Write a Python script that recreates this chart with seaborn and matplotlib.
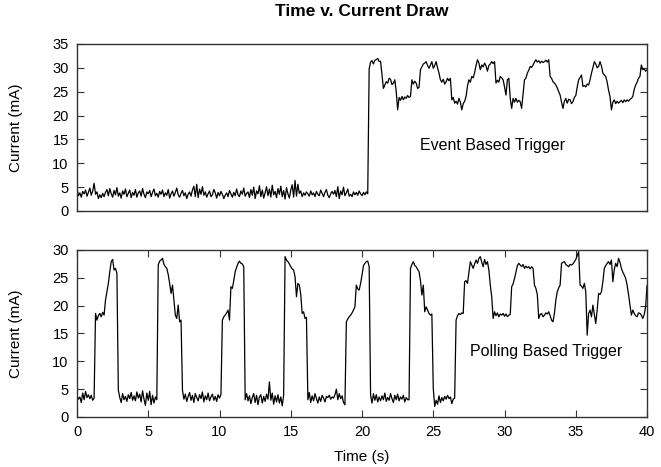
import numpy as np
import pandas as pd
import matplotlib
matplotlib.use("Agg")
import matplotlib.pyplot as plt
import seaborn as sns

sns.set_style("ticks")
plt.rcParams['font.family'] = ['Liberation Sans', 'DejaVu Sans']
plt.rcParams['text.color'] = 'black'
plt.rcParams['axes.labelcolor'] = 'black'
plt.rcParams['xtick.labelcolor'] = 'black'
plt.rcParams['ytick.labelcolor'] = 'black'

# sample grid, 0.1 s steps from 0 to 40 s
time_s = np.linspace(0, 40, 401)

# current draw (mA), one row per 2 s
event_ma = [
    4.6, 3.2, 3.8, 2.9, 4.1, 3.6, 4.4, 3.1, 3.9, 4.8, 3.3, 4.2, 5.8, 3.5, 4.0, 2.6, 3.4, 2.8, 3.7, 3.0,
    3.9, 4.5, 3.2, 4.7, 3.6, 2.9, 4.3, 3.4, 4.9, 3.1, 3.8, 2.7, 4.2, 3.5, 4.6, 3.0, 3.7, 4.4, 2.8, 3.9,
    3.3, 4.5, 2.9, 3.8, 4.2, 3.1, 4.7, 3.5, 2.8, 4.0, 3.6, 4.3, 3.0, 3.9, 4.6, 3.2, 3.7, 2.9, 4.1, 3.5,
    4.4, 3.0, 3.8, 3.3, 4.5, 2.7, 3.6, 4.2, 3.1, 3.9, 4.8, 3.4, 2.9, 3.7, 4.3, 3.2, 3.8, 2.6, 3.5, 4.0,
    3.1, 4.4, 5.2, 3.0, 5.6, 2.8, 4.6, 3.5, 5.1, 3.3, 4.0, 2.9, 3.6, 4.2, 3.0, 3.4, 4.5, 3.8, 2.7, 3.9,
    3.2, 4.1, 3.5, 2.6, 3.3, 3.8, 3.0, 4.3, 3.6, 2.9, 3.9, 3.2, 4.6, 3.4, 3.0, 4.2, 3.5, 4.8, 3.1, 3.7,
    4.0, 2.8, 4.5, 3.3, 5.0, 2.6, 4.2, 3.6, 5.3, 3.0, 4.4, 2.7, 3.8, 5.1, 3.2, 4.6, 2.9, 5.4, 3.4, 4.1,
    2.8, 4.7, 3.5, 5.2, 3.0, 4.3, 2.5, 4.9, 3.6, 2.7, 4.4, 5.5, 2.9, 6.4, 3.1, 5.6, 3.7, 4.2, 3.0, 3.8,
    3.3, 4.0, 3.6, 3.1, 4.2, 3.4, 3.8, 3.0, 4.1, 3.5, 3.2, 4.4, 3.7, 3.0, 3.9, 4.5, 3.3, 2.8, 3.6, 4.1,
    3.5, 4.3, 3.0, 5.1, 2.6, 4.2, 3.4, 5.0, 3.2, 3.8, 4.6, 3.1, 3.5, 3.0, 4.0, 3.4, 3.9, 3.3, 4.2, 3.6,
    3.2, 3.9, 3.4, 4.0, 3.6, 29.8, 31.2, 31.5, 30.8, 31.6, 31.7, 32.0, 31.3, 31.4, 28.5, 25.7, 26.4, 27.1, 26.8, 27.8,
    27.6, 26.5, 26.8, 27.5, 25.0, 21.2, 23.8, 23.2, 24.0, 23.3, 23.9, 23.6, 24.2, 23.8, 24.0, 27.5, 26.6, 27.2, 26.8, 25.7,
    25.9, 29.6, 30.2, 30.8, 31.0, 31.3, 30.5, 29.9, 30.6, 31.3, 29.9, 30.5, 31.3, 30.0, 28.9, 27.5, 27.0, 27.6, 26.6, 27.1,
    27.8, 27.3, 27.8, 23.3, 23.8, 22.6, 23.0, 22.4, 23.6, 22.8, 21.2, 22.5, 23.0, 24.0, 26.2, 27.5, 27.0, 28.2, 27.9, 29.0,
    30.5, 31.7, 31.0, 29.6, 30.6, 30.2, 31.0, 30.4, 29.3, 30.5, 30.8, 31.3, 30.9, 31.3, 26.8, 27.4, 27.0, 28.2, 27.9, 27.5,
    26.0, 24.3, 27.5, 27.8, 23.6, 21.5, 23.6, 22.8, 23.6, 22.8, 23.2, 22.9, 21.5, 24.5, 27.5, 27.8, 28.9, 29.5, 30.3, 30.1,
    30.6, 31.2, 31.7, 31.2, 31.5, 31.0, 31.4, 31.1, 31.3, 31.6, 31.2, 31.7, 28.2, 27.8, 27.1, 26.8, 26.4, 25.8, 25.0, 24.3,
    22.8, 21.5, 23.0, 23.6, 22.6, 23.4, 23.3, 22.5, 22.9, 23.8, 24.2, 26.0, 27.5, 28.0, 28.5, 26.1, 26.3, 26.0, 26.6, 26.4,
    27.5, 28.9, 30.0, 31.3, 30.8, 30.0, 30.3, 31.3, 30.4, 28.9, 28.5, 28.2, 27.0, 25.3, 24.0, 21.2, 22.8, 23.3, 22.5, 23.0,
    22.6, 22.9, 23.2, 22.7, 23.3, 22.9, 23.3, 23.0, 23.4, 23.6, 24.0, 25.5, 26.4, 27.0, 27.8, 28.2, 30.6, 29.6, 29.8, 29.3, 29.6,
]

# current draw (mA)
polling_ma = [
    3.8, 3.2, 3.6, 2.6, 4.3, 3.1, 4.6, 3.5, 4.0, 3.3, 3.9, 3.0, 3.4, 18.6, 17.4, 18.2, 18.6, 18.0, 18.8, 18.3,
    21.0, 22.5, 24.0, 26.1, 27.9, 28.3, 26.4, 26.7, 25.8, 4.8, 3.5, 2.6, 4.2, 3.1, 3.7, 2.8, 4.0, 3.3, 4.4, 3.0,
    3.8, 2.9, 4.5, 3.4, 4.1, 2.7, 4.7, 3.2, 2.1, 4.3, 3.0, 4.6, 2.2, 3.9, 2.5, 3.6, 3.1, 27.3, 28.0, 28.2,
    28.5, 27.4, 27.0, 26.7, 25.6, 24.0, 22.2, 23.7, 21.0, 18.3, 17.7, 20.1, 17.1, 17.4, 4.8, 3.2, 4.1, 2.8, 3.7, 4.4,
    3.0, 3.9, 2.6, 4.2, 3.5, 2.9, 4.0, 3.3, 4.5, 2.7, 3.8, 3.1, 4.3, 2.9, 3.6, 4.1, 3.0, 3.7, 2.8, 4.0,
    3.4, 4.0, 17.4, 18.0, 18.3, 18.7, 19.2, 17.4, 23.4, 23.1, 24.5, 26.1, 26.9, 27.6, 28.0, 27.6, 27.5, 27.0, 3.1, 4.2,
    2.9, 3.8, 2.4, 3.5, 4.2, 2.6, 3.9, 2.2, 3.6, 4.0, 2.5, 3.7, 2.8, 4.1, 3.2, 6.3, 3.0, 4.3, 2.3, 3.8,
    2.7, 4.0, 2.5, 3.6, 2.0, 3.9, 28.8, 28.2, 27.9, 27.5, 27.0, 26.6, 26.4, 25.2, 21.6, 24.0, 23.7, 22.0, 18.6, 18.9,
    17.7, 17.9, 3.1, 4.4, 2.6, 3.8, 2.9, 4.2, 3.3, 2.5, 3.6, 2.8, 3.9, 3.4, 2.7, 3.7, 3.5, 3.9, 3.2, 3.6,
    3.4, 4.0, 5.0, 3.1, 4.2, 3.3, 3.8, 2.6, 2.2, 17.1, 17.6, 18.0, 18.3, 18.7, 19.2, 19.8, 23.7, 23.0, 22.8, 24.0,
    25.5, 27.2, 27.6, 27.9, 28.0, 27.0, 3.9, 2.5, 4.2, 3.0, 4.0, 2.7, 3.6, 2.9, 3.8, 3.1, 4.3, 2.8, 3.5, 3.0,
    4.2, 3.3, 2.6, 3.9, 3.1, 4.1, 2.9, 3.6, 3.2, 3.9, 2.7, 3.5, 3.1, 3.1, 26.7, 27.4, 27.9, 27.2, 27.0, 26.5,
    26.1, 24.5, 21.9, 23.7, 18.9, 19.8, 19.2, 18.6, 18.3, 18.5, 5.1, 1.9, 3.0, 2.3, 3.8, 2.6, 3.5, 2.9, 3.7, 3.2,
    3.9, 3.3, 3.6, 2.4, 3.2, 3.4, 17.4, 18.2, 18.6, 18.4, 18.7, 18.6, 24.3, 24.5, 24.0, 26.0, 27.9, 27.3, 26.7, 27.5,
    28.2, 27.6, 28.5, 28.8, 27.8, 27.0, 28.3, 27.4, 27.9, 26.4, 23.7, 21.6, 17.7, 18.9, 18.2, 18.7, 18.0, 18.5, 18.3, 18.6,
    18.1, 18.5, 18.0, 18.3, 18.4, 23.4, 23.9, 24.9, 26.0, 27.2, 27.6, 27.3, 27.0, 27.4, 26.7, 27.1, 26.8, 27.0, 26.6, 27.0,
    26.7, 23.7, 23.1, 22.0, 17.7, 18.4, 18.6, 18.0, 18.3, 18.7, 18.5, 18.9, 18.2, 17.4, 17.1, 18.6, 21.0, 22.5, 23.2, 23.7,
    27.6, 27.8, 27.9, 27.4, 27.2, 27.0, 27.4, 27.3, 27.5, 27.9, 28.3, 29.0, 29.7, 23.7, 23.5, 23.1, 24.0, 22.5, 14.7, 18.6,
    19.2, 18.0, 20.1, 18.5, 16.8, 19.2, 22.2, 22.0, 22.5, 24.3, 26.7, 27.2, 27.6, 27.9, 27.4, 28.2, 24.3, 26.5, 27.6, 27.0,
    28.5, 27.8, 26.7, 26.0, 25.5, 24.9, 23.7, 22.0, 20.1, 18.3, 19.2, 18.6, 18.2, 18.0, 18.7, 18.6, 18.3, 17.7, 18.4, 19.8, 23.7,
]

x_ticks = [0, 5, 10, 15, 20, 25, 30, 35, 40]
event_yticks = [0, 5, 10, 15, 20, 25, 30, 35]
polling_yticks = [0, 5, 10, 15, 20, 25, 30]

df = pd.DataFrame({"time": time_s, "event": event_ma, "polling": polling_ma})

fig = plt.figure(figsize=(6.61, 4.67), dpi=100)
ax1 = fig.add_axes([0.1165, 0.5482, 0.8624, 0.3576])
ax2 = fig.add_axes([0.1165, 0.1071, 0.8624, 0.3576])

sns.lineplot(data=df, x="time", y="event", ax=ax1, color="black", linewidth=0.9, estimator=None)
sns.lineplot(data=df, x="time", y="polling", ax=ax2, color="black", linewidth=0.9, estimator=None)

for ax in (ax1, ax2):
    ax.set_xlim(0, 40)
    for sp in ax.spines.values():
        sp.set_visible(True)
        sp.set_color("#333333")
        sp.set_linewidth(1.0)
    ax.tick_params(direction="in", length=5, width=0.8, color="#333333",
                   labelsize=10.5, labelcolor="black", right=True, top=True, pad=6)
    ax.set_ylabel("Current (mA)", fontsize=11, color="black")
    ax.yaxis.set_label_coords(-0.095, 0.5)

ax1.set_ylim(0, 35)
ax1.set_yticks(event_yticks)
ax1.set_xticks([])
ax1.set_xlabel("")
ax1.text(24.1, 13.8, "Event Based Trigger", fontsize=11.5, va="center", color="black")

ax2.set_ylim(0, 30)
ax2.set_yticks(polling_yticks)
ax2.set_xticks(x_ticks)
ax2.set_xlabel("Time (s)", fontsize=11, color="black")
ax2.xaxis.set_label_coords(0.5, -0.2)
ax2.text(27.6, 11.7, "Polling Based Trigger", fontsize=11.5, va="center", color="black")

fig.text(362 / 661, 1 - 12 / 467, "Time v. Current Draw", fontsize=12.5,
         fontweight="bold", ha="center", va="center", color="black")

fig.savefig("out.png", dpi=100)
